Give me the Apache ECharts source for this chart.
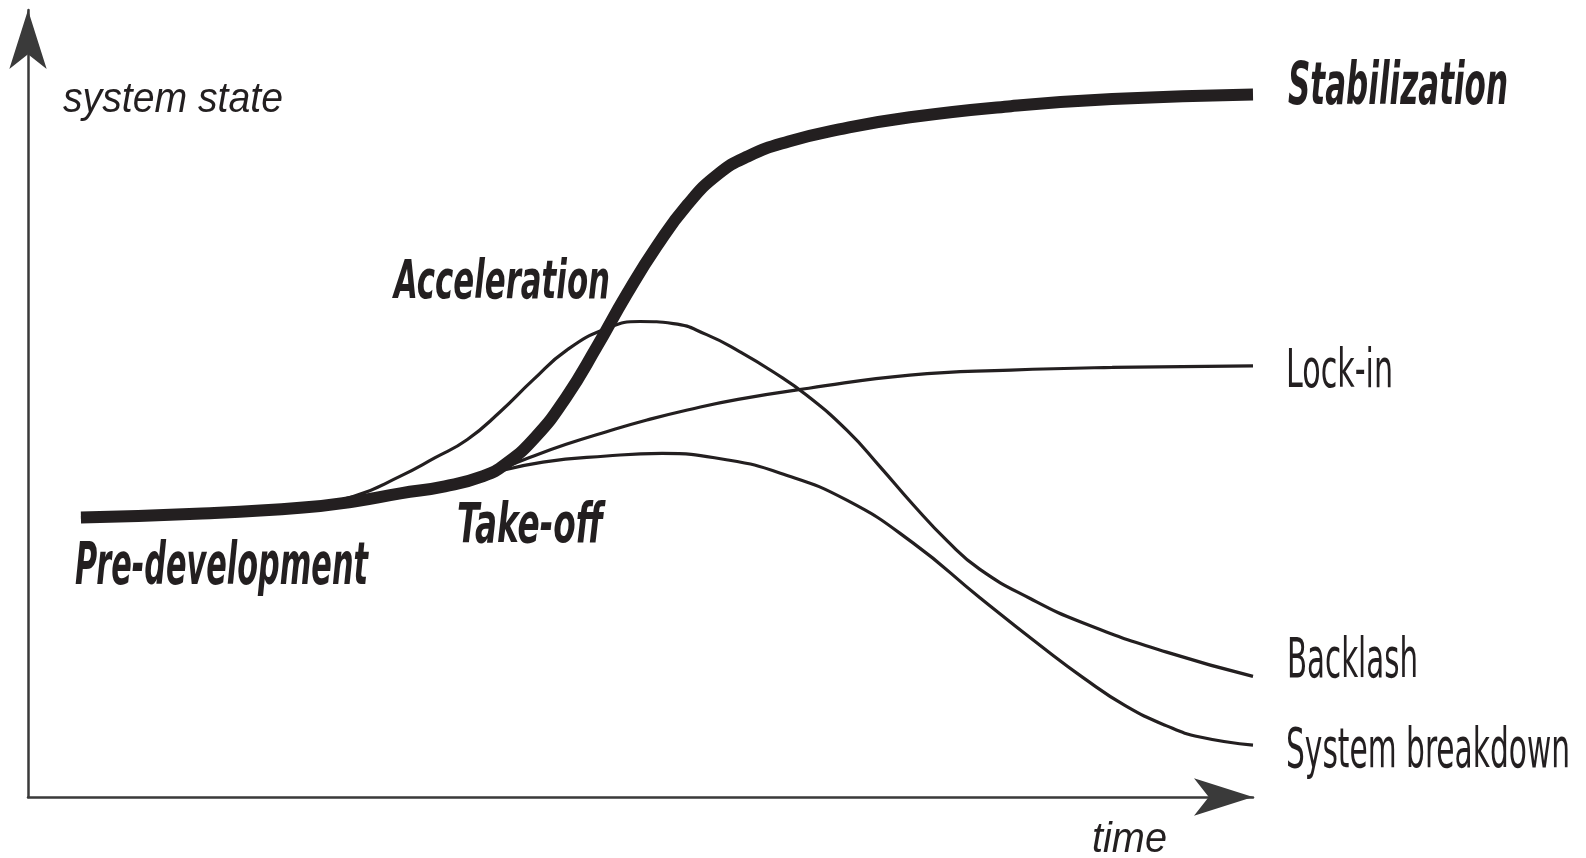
<!DOCTYPE html>
<html><head><meta charset="utf-8">
<script src="https://cdn.jsdelivr.net/npm/echarts@6/dist/echarts.min.js"></script>
<style>html,body{margin:0;padding:0;background:#fff}#c{width:1586px;height:858px}</style>
</head><body><div id="c"></div>
<script>
// ---- data (time 0..100, system state 0..100) ----
const stabilization = [[4.32,35.50],[14.22,36.01],[22.47,36.78],[26.60,37.55],[30.40,38.58],[34.03,39.48],[37.16,40.77],[38.98,42.31],[41.45,45.78],[43.93,50.79],[46.41,57.14],[48.88,63.89],[51.36,70.05],[53.83,75.26],[56.31,79.11],[58.79,81.42],[62.09,83.29],[66.21,84.83],[71.99,86.37],[80.24,87.78],[88.50,88.68],[100,89.26]];
const backlash = [[4.32,35.50],[14.22,35.76],[18.35,36.14],[22.47,36.91],[26.60,38.20],[30.40,40.77],[33.20,43.08],[35.84,45.39],[38.57,48.99],[41.21,52.97],[44.01,56.82],[47.23,59.52],[49.95,60.42],[52.68,60.16],[55.40,58.75],[58.12,56.57],[60.85,54.00],[63.57,51.04],[66.88,46.55],[69.51,42.05],[72.24,37.17],[75.04,32.54],[77.68,28.95],[81.81,25.22],[86.10,22.14],[92.95,18.41],[100,15.33]];
const lockIn = [[33.20,39.22],[37.49,41.02],[40.63,42.95],[43.93,44.81],[47.23,46.42],[50.53,47.90],[53.83,49.18],[57.96,50.53],[63.74,51.94],[71.99,53.61],[80.24,54.25],[88.50,54.58],[100,54.77]];
const breakdown = [[33.20,39.22],[37.49,41.02],[42.03,42.56],[47.23,43.33],[51.77,43.65],[57.13,42.82],[61.42,41.15],[66.88,37.68],[72.24,32.29],[77.68,25.35],[83.21,18.54],[86.10,15.20],[89.57,11.61],[92.95,9.04],[95.67,7.62],[100,6.60]];
const seriesNames = ['Stabilization','Lock-in','Backlash','System breakdown'];
const phaseNames = ['Pre-development','Take-off','Acceleration'];
const axisTitles = ['system state','time'];

// ---- layout ----
const INK = '#231f20';
const COND = "'Liberation Sans Narrow','DejaVu Sans Condensed','Liberation Sans',sans-serif";
const PLAIN = "'Liberation Sans','DejaVu Sans',sans-serif";
// [text, left, baseline, width, fontSize, style, weight, family]
const textBoxes = [
  [axisTitles[0], 63, 110, 220, 42, 'italic', 'normal', PLAIN],
  [axisTitles[1], 1092, 850, 75, 42, 'italic', 'normal', PLAIN],
  [seriesNames[0], 1288, 102, 220, 58, 'italic', 'bold', COND],
  [seriesNames[1], 1286, 385, 107, 54, 'normal', 'normal', COND],
  [seriesNames[2], 1287, 675, 131, 55, 'normal', 'normal', COND],
  [seriesNames[3], 1286, 765, 284, 55, 'normal', 'normal', COND],
  [phaseNames[0], 75, 582, 293, 58, 'italic', 'bold', COND],
  [phaseNames[1], 457, 540, 146, 55, 'italic', 'bold', COND],
  [phaseNames[2], 394, 296, 216, 53, 'italic', 'bold', COND]
];
const mctx = document.createElement('canvas').getContext('2d');
const graphics = textBoxes.map(([t, x, base, w, fs, st, wt, fam]) => {
  const font = `${st} ${wt} ${fs}px ${fam}`;
  mctx.font = font;
  const mw = mctx.measureText(t).width || w;
  return {
    type: 'text', x: x, y: base - 0.23 * fs, scaleX: w / mw, z: 100,
    style: { text: t, x: 0, y: 0, font: font, fill: INK, textAlign: 'left', textVerticalAlign: 'middle' }
  };
});

const thin = { width: 3.2, color: INK };
const axisLine = { show: true, onZero: false, symbol: ['none', 'arrow'], symbolSize: [28, 59], symbolOffset: [0, 0], lineStyle: { color: '#3a3a3a', width: 2.5 } };
const chart = echarts.init(document.getElementById('c'), null, { renderer: 'canvas' });
chart.setOption({
  animation: false,
  backgroundColor: '#fff',
  grid: { left: 28, right: 333, top: 10, bottom: 61, containLabel: false },
  xAxis: { type: 'value', min: 0, max: 100, axisLine: axisLine, axisTick: { show: false }, axisLabel: { show: false }, splitLine: { show: false } },
  yAxis: { type: 'value', min: 0, max: 100, axisLine: axisLine, axisTick: { show: false }, axisLabel: { show: false }, splitLine: { show: false } },
  series: [
    { name: seriesNames[2], type: 'line', data: backlash, smooth: 0.5, showSymbol: false, lineStyle: thin, z: 2 },
    { name: seriesNames[1], type: 'line', data: lockIn, smooth: 0.5, showSymbol: false, lineStyle: thin, z: 2 },
    { name: seriesNames[3], type: 'line', data: breakdown, smooth: 0.5, showSymbol: false, lineStyle: thin, z: 2 },
    { name: seriesNames[0], type: 'line', data: stabilization, smooth: 0.5, showSymbol: false, lineStyle: { width: 12, color: INK }, z: 3 }
  ],
  graphic: graphics
});
</script></body></html>
